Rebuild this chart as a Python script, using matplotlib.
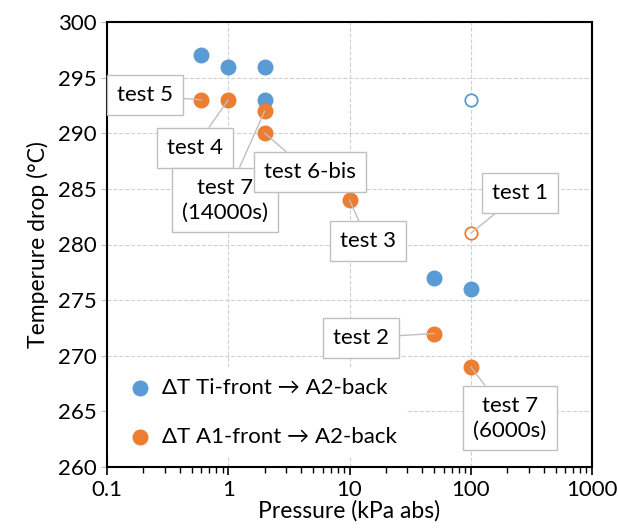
import matplotlib.pyplot as plt
import numpy as np

plt.rcParams['font.family'] = ['Lato', 'DejaVu Sans']

# data
p_ti = [0.6, 1, 2, 2, 50, 100]
dt_ti = [297, 296, 296, 293, 277, 276]
p_a1 = [0.6, 1, 2, 2, 10, 50, 100]
dt_a1 = [293, 293, 292, 290, 284, 272, 269]
# open markers (test 1)
p_open = [100]
dt_ti_open = [293]
dt_a1_open = [281]

labels = ['test 5', 'test 4', 'test 7\n(14000s)', 'test 6-bis', 'test 3',
          'test 1', 'test 2', 'test 7\n(6000s)']
label_pts = [(0.6, 293), (1, 293), (2, 292), (2, 290), (10, 284),
             (100, 281), (50, 272), (100, 269)]
label_txt = [(0.206, 293.4), (0.53, 288.7), (0.94, 284.0), (4.72, 286.5),
             (14.2, 280.3), (255, 284.6), (12.4, 271.6), (211, 264.4)]

blue = '#5B9BD5'
orange = '#ED7D31'

fig = plt.figure(figsize=(6.18, 5.31), dpi=100)
ax = fig.add_axes([107/618, 1-467/531, (592-107)/618, (467-22)/531])

ax.scatter(p_ti, dt_ti, s=110, color=blue, zorder=3, label='ΔT Ti-front → A2-back')
ax.scatter(p_a1, dt_a1, s=110, color=orange, zorder=3, label='ΔT A1-front → A2-back')
ax.scatter(p_open, dt_ti_open, s=80, facecolor='white', edgecolor=blue, linewidth=1.3, zorder=3)
ax.scatter(p_open, dt_a1_open, s=80, facecolor='white', edgecolor=orange, linewidth=1.3, zorder=3)

for lab, pt, tx in zip(labels, label_pts, label_txt):
    ax.annotate(lab, xy=pt, xytext=tx, ha='center', va='center', fontsize=16,
                multialignment='center', zorder=4, linespacing=1.3,
                bbox=dict(boxstyle='square,pad=0.45', fc='white', ec='#BFBFBF', lw=1),
                arrowprops=dict(arrowstyle='-', color='#BFBFBF', lw=1, shrinkA=0, shrinkB=0))

ax.set_xscale('log')
ax.set_xlim(0.1, 1000)
ax.set_ylim(260, 300)
ax.set_yticks(np.arange(260, 301, 5))
ax.set_xticks([0.1, 1, 10, 100, 1000])
ax.set_xticklabels(['0.1', '1', '10', '100', '1000'])
ax.grid(True, which='major', color='#D0D0D0', linestyle='--', linewidth=0.8)
ax.set_axisbelow(True)
for s in ax.spines.values():
    s.set_linewidth(1.5)
    s.set_color('black')
ax.tick_params(axis='x', which='major', length=6, width=1.2, labelsize=16, direction='out')
ax.tick_params(axis='x', which='minor', length=4, width=1, direction='out')
ax.tick_params(axis='y', length=4, color='#BFBFBF', labelsize=16)

ax.set_xlabel('Pressure (kPa abs)', fontsize=16.5, labelpad=0)
ax.set_ylabel('Temperure drop (°C)', fontsize=16.5, labelpad=6)

leg = ax.legend(loc='lower left', bbox_to_anchor=(-0.02, 0.0), fontsize=16,
                frameon=True, handletextpad=0.0, labelspacing=1.3,
                borderaxespad=0.5, scatterpoints=1)
leg.get_frame().set_edgecolor('none')
leg.get_frame().set_facecolor('white')
leg.get_frame().set_alpha(1)

plt.savefig('out.png', dpi=100)
